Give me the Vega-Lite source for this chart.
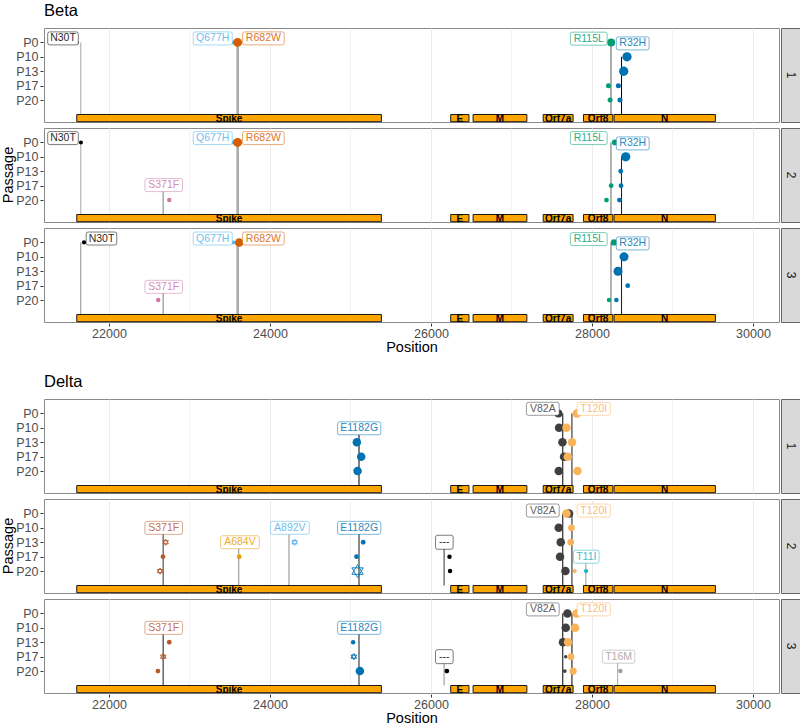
{
  "$schema": "https://vega.github.io/schema/vega-lite/v6.json",
  "background": "white",
  "padding": {"left": 0, "top": 3, "right": 0, "bottom": 0},
  "config": {
    "font": "Liberation Sans",
    "view": {"stroke": "#8a8a8a", "strokeWidth": 1},
    "axis": {"labelFontSize": 12.5, "labelColor": "#4d4d4d", "tickColor": "#333333", "tickSize": 3, "labelPadding": 2, "labelOverlap": false, "domain": false, "titleFontSize": 14.5, "titleFontWeight": "normal", "titleColor": "#000000", "gridColor": "#ebebeb", "titlePadding": 1},
    "title": {"fontSize": 16.5, "fontWeight": "normal", "color": "#000000", "anchor": "start", "offset": 8},
    "header": {"titleFontSize": 14.5, "titleFontWeight": "normal", "titleColor": "#000000", "labelPadding": 0}
  },
  "datasets": {
    "strips": [{"rep": 1}, {"rep": 2}, {"rep": 3}],
    "beta": [
      {"kind": "gene", "rep": 1, "gene": "Spike", "start": 21600, "end": 25384},
      {"kind": "gene", "rep": 1, "gene": "E", "start": 26245, "end": 26472},
      {"kind": "gene", "rep": 1, "gene": "M", "start": 26523, "end": 27191},
      {"kind": "gene", "rep": 1, "gene": "Orf7a", "start": 27394, "end": 27765},
      {"kind": "gene", "rep": 1, "gene": "Orf8", "start": 27894, "end": 28259},
      {"kind": "gene", "rep": 1, "gene": "N", "start": 28274, "end": 29533},
      {"kind": "gene", "rep": 2, "gene": "Spike", "start": 21600, "end": 25384},
      {"kind": "gene", "rep": 2, "gene": "E", "start": 26245, "end": 26472},
      {"kind": "gene", "rep": 2, "gene": "M", "start": 26523, "end": 27191},
      {"kind": "gene", "rep": 2, "gene": "Orf7a", "start": 27394, "end": 27765},
      {"kind": "gene", "rep": 2, "gene": "Orf8", "start": 27894, "end": 28259},
      {"kind": "gene", "rep": 2, "gene": "N", "start": 28274, "end": 29533},
      {"kind": "gene", "rep": 3, "gene": "Spike", "start": 21600, "end": 25384},
      {"kind": "gene", "rep": 3, "gene": "E", "start": 26245, "end": 26472},
      {"kind": "gene", "rep": 3, "gene": "M", "start": 26523, "end": 27191},
      {"kind": "gene", "rep": 3, "gene": "Orf7a", "start": 27394, "end": 27765},
      {"kind": "gene", "rep": 3, "gene": "Orf8", "start": 27894, "end": 28259},
      {"kind": "gene", "rep": 3, "gene": "N", "start": 28274, "end": 29533},

      {"kind": "mut", "rep": 1, "mut": "N30T", "pos": 21650, "top": 5, "mean_af": 0.35, "lab_x": 21429, "lab_y": 5.28},
      {"kind": "mut", "rep": 1, "mut": "Q677H", "pos": 23591, "top": 5, "mean_af": 0.45, "lab_x": 23289, "lab_y": 5.28},
      {"kind": "mut", "rep": 1, "mut": "R682W", "pos": 23606, "top": 5, "mean_af": 0.45, "lab_x": 23918, "lab_y": 5.28},
      {"kind": "mut", "rep": 1, "mut": "R115L", "pos": 28236, "top": 5, "mean_af": 0.65, "lab_x": 27960, "lab_y": 5.26},
      {"kind": "mut", "rep": 1, "mut": "R32H", "pos": 28367, "top": 4, "mean_af": 1, "lab_x": 28506, "lab_y": 4.93},
      {"kind": "mut", "rep": 2, "mut": "N30T", "pos": 21650, "top": 5, "mean_af": 0.35, "lab_x": 21429, "lab_y": 5.3},
      {"kind": "mut", "rep": 2, "mut": "Q677H", "pos": 23591, "top": 5, "mean_af": 0.45, "lab_x": 23289, "lab_y": 5.3},
      {"kind": "mut", "rep": 2, "mut": "R682W", "pos": 23606, "top": 5, "mean_af": 0.45, "lab_x": 23918, "lab_y": 5.3},
      {"kind": "mut", "rep": 2, "mut": "S371F", "pos": 22673, "top": 2.04, "mean_af": 0.5, "lab_x": 22680, "lab_y": 2.04},
      {"kind": "mut", "rep": 2, "mut": "R115L", "pos": 28236, "top": 5, "mean_af": 0.6, "lab_x": 27960, "lab_y": 5.3},
      {"kind": "mut", "rep": 2, "mut": "R32H", "pos": 28367, "top": 4, "mean_af": 0.9, "lab_x": 28506, "lab_y": 4.93},
      {"kind": "mut", "rep": 3, "mut": "N30T", "pos": 21650, "top": 5, "mean_af": 0.45, "lab_x": 21907, "lab_y": 5.27},
      {"kind": "mut", "rep": 3, "mut": "Q677H", "pos": 23591, "top": 5, "mean_af": 0.45, "lab_x": 23289, "lab_y": 5.27},
      {"kind": "mut", "rep": 3, "mut": "R682W", "pos": 23606, "top": 5, "mean_af": 0.45, "lab_x": 23918, "lab_y": 5.27},
      {"kind": "mut", "rep": 3, "mut": "S371F", "pos": 22673, "top": 1.92, "mean_af": 0.5, "lab_x": 22680, "lab_y": 1.92},
      {"kind": "mut", "rep": 3, "mut": "R115L", "pos": 28236, "top": 5, "mean_af": 0.6, "lab_x": 27960, "lab_y": 5.23},
      {"kind": "mut", "rep": 3, "mut": "R32H", "pos": 28367, "top": 4, "mean_af": 0.9, "lab_x": 28506, "lab_y": 4.93},

      {"kind": "obs", "rep": 1, "mut": "N30T", "pos": 21600, "level": 5, "freq": 0.05, "status": "called"},
      {"kind": "obs", "rep": 1, "mut": "Q677H", "pos": 23545, "level": 5, "freq": 0.08, "status": "called"},
      {"kind": "obs", "rep": 1, "mut": "R682W", "pos": 23598, "level": 5, "freq": 0.75, "status": "called"},
      {"kind": "obs", "rep": 1, "mut": "R115L", "pos": 28238, "level": 5, "freq": 0.6, "status": "called"},
      {"kind": "obs", "rep": 1, "mut": "R115L", "pos": 28205, "level": 2, "freq": 0.18, "status": "called"},
      {"kind": "obs", "rep": 1, "mut": "R115L", "pos": 28225, "level": 1, "freq": 0.18, "status": "called"},
      {"kind": "obs", "rep": 1, "mut": "R32H", "pos": 28435, "level": 4, "freq": 0.85, "status": "called"},
      {"kind": "obs", "rep": 1, "mut": "R32H", "pos": 28394, "level": 3, "freq": 0.85, "status": "called"},
      {"kind": "obs", "rep": 1, "mut": "R32H", "pos": 28328, "level": 2, "freq": 0.18, "status": "called"},
      {"kind": "obs", "rep": 1, "mut": "R32H", "pos": 28348, "level": 1, "freq": 0.18, "status": "called"},
      {"kind": "obs", "rep": 2, "mut": "N30T", "pos": 21652, "level": 5, "freq": 0.08, "status": "called"},
      {"kind": "obs", "rep": 2, "mut": "Q677H", "pos": 23545, "level": 5, "freq": 0.08, "status": "called"},
      {"kind": "obs", "rep": 2, "mut": "R682W", "pos": 23598, "level": 5, "freq": 0.8, "status": "called"},
      {"kind": "obs", "rep": 2, "mut": "S371F", "pos": 22749, "level": 1, "freq": 0.12, "status": "called"},
      {"kind": "obs", "rep": 2, "mut": "R115L", "pos": 28283, "level": 5, "freq": 0.25, "status": "called"},
      {"kind": "obs", "rep": 2, "mut": "R115L", "pos": 28238, "level": 2, "freq": 0.15, "status": "called"},
      {"kind": "obs", "rep": 2, "mut": "R115L", "pos": 28180, "level": 1, "freq": 0.15, "status": "called"},
      {"kind": "obs", "rep": 2, "mut": "R32H", "pos": 28419, "level": 4, "freq": 0.85, "status": "called"},
      {"kind": "obs", "rep": 2, "mut": "R32H", "pos": 28357, "level": 3, "freq": 0.15, "status": "called"},
      {"kind": "obs", "rep": 2, "mut": "R32H", "pos": 28361, "level": 2, "freq": 0.15, "status": "called"},
      {"kind": "obs", "rep": 2, "mut": "R32H", "pos": 28341, "level": 1, "freq": 0.15, "status": "called"},
      {"kind": "obs", "rep": 3, "mut": "N30T", "pos": 21690, "level": 5, "freq": 0.1, "status": "called"},
      {"kind": "obs", "rep": 3, "mut": "Q677H", "pos": 23545, "level": 5, "freq": 0.08, "status": "called"},
      {"kind": "obs", "rep": 3, "mut": "R682W", "pos": 23618, "level": 5, "freq": 0.7, "status": "called"},
      {"kind": "obs", "rep": 3, "mut": "S371F", "pos": 22612, "level": 1, "freq": 0.12, "status": "called"},
      {"kind": "obs", "rep": 3, "mut": "R115L", "pos": 28274, "level": 5, "freq": 0.35, "status": "called"},
      {"kind": "obs", "rep": 3, "mut": "R115L", "pos": 28212, "level": 1, "freq": 0.12, "status": "called"},
      {"kind": "obs", "rep": 3, "mut": "R32H", "pos": 28398, "level": 4, "freq": 0.8, "status": "called"},
      {"kind": "obs", "rep": 3, "mut": "R32H", "pos": 28323, "level": 3, "freq": 0.8, "status": "called"},
      {"kind": "obs", "rep": 3, "mut": "R32H", "pos": 28444, "level": 2, "freq": 0.15, "status": "called"},
      {"kind": "obs", "rep": 3, "mut": "R32H", "pos": 28303, "level": 1, "freq": 0.12, "status": "called"}
    ],
    "delta": [
      {"kind": "gene", "rep": 1, "gene": "Spike", "start": 21600, "end": 25384},
      {"kind": "gene", "rep": 1, "gene": "E", "start": 26245, "end": 26472},
      {"kind": "gene", "rep": 1, "gene": "M", "start": 26523, "end": 27191},
      {"kind": "gene", "rep": 1, "gene": "Orf7a", "start": 27394, "end": 27765},
      {"kind": "gene", "rep": 1, "gene": "Orf8", "start": 27894, "end": 28259},
      {"kind": "gene", "rep": 1, "gene": "N", "start": 28274, "end": 29533},
      {"kind": "gene", "rep": 2, "gene": "Spike", "start": 21600, "end": 25384},
      {"kind": "gene", "rep": 2, "gene": "E", "start": 26245, "end": 26472},
      {"kind": "gene", "rep": 2, "gene": "M", "start": 26523, "end": 27191},
      {"kind": "gene", "rep": 2, "gene": "Orf7a", "start": 27394, "end": 27765},
      {"kind": "gene", "rep": 2, "gene": "Orf8", "start": 27894, "end": 28259},
      {"kind": "gene", "rep": 2, "gene": "N", "start": 28274, "end": 29533},
      {"kind": "gene", "rep": 3, "gene": "Spike", "start": 21600, "end": 25384},
      {"kind": "gene", "rep": 3, "gene": "E", "start": 26245, "end": 26472},
      {"kind": "gene", "rep": 3, "gene": "M", "start": 26523, "end": 27191},
      {"kind": "gene", "rep": 3, "gene": "Orf7a", "start": 27394, "end": 27765},
      {"kind": "gene", "rep": 3, "gene": "Orf8", "start": 27894, "end": 28259},
      {"kind": "gene", "rep": 3, "gene": "N", "start": 28274, "end": 29533},

      {"kind": "mut", "rep": 1, "mut": "E1182G", "pos": 25106, "top": 3.97, "mean_af": 1, "lab_x": 25108, "lab_y": 3.97},
      {"kind": "mut", "rep": 1, "mut": "V82A", "pos": 27637, "top": 5, "mean_af": 1, "lab_x": 27389, "lab_y": 5.32},
      {"kind": "mut", "rep": 1, "mut": "T120I", "pos": 27751, "top": 5, "mean_af": 0.9, "lab_x": 28022, "lab_y": 5.32},
      {"kind": "mut", "rep": 2, "mut": "S371F", "pos": 22673, "top": 4, "mean_af": 0.8, "lab_x": 22680, "lab_y": 4},
      {"kind": "mut", "rep": 2, "mut": "A684V", "pos": 23612, "top": 3, "mean_af": 0.45, "lab_x": 23627, "lab_y": 3},
      {"kind": "mut", "rep": 2, "mut": "A892V", "pos": 24236, "top": 4, "mean_af": 0.45, "lab_x": 24247, "lab_y": 4},
      {"kind": "mut", "rep": 2, "mut": "E1182G", "pos": 25106, "top": 4, "mean_af": 0.9, "lab_x": 25108, "lab_y": 4},
      {"kind": "mut", "rep": 2, "mut": "---", "pos": 26163, "top": 3, "mean_af": 0.8, "lab_x": 26166, "lab_y": 3},
      {"kind": "mut", "rep": 2, "mut": "V82A", "pos": 27637, "top": 5, "mean_af": 1, "lab_x": 27389, "lab_y": 5.2},
      {"kind": "mut", "rep": 2, "mut": "T120I", "pos": 27751, "top": 5, "mean_af": 0.9, "lab_x": 28022, "lab_y": 5.2},
      {"kind": "mut", "rep": 2, "mut": "T11I", "pos": 27924, "top": 2, "mean_af": 0.4, "lab_x": 27929, "lab_y": 2},
      {"kind": "mut", "rep": 3, "mut": "S371F", "pos": 22673, "top": 4, "mean_af": 0.9, "lab_x": 22680, "lab_y": 4},
      {"kind": "mut", "rep": 3, "mut": "E1182G", "pos": 25106, "top": 4, "mean_af": 0.9, "lab_x": 25108, "lab_y": 4},
      {"kind": "mut", "rep": 3, "mut": "---", "pos": 26163, "top": 2, "mean_af": 0.45, "lab_x": 26166, "lab_y": 2},
      {"kind": "mut", "rep": 3, "mut": "V82A", "pos": 27637, "top": 5, "mean_af": 1, "lab_x": 27389, "lab_y": 5.28},
      {"kind": "mut", "rep": 3, "mut": "T120I", "pos": 27751, "top": 5, "mean_af": 1, "lab_x": 28022, "lab_y": 5.28},
      {"kind": "mut", "rep": 3, "mut": "T16M", "pos": 28319, "top": 2, "mean_af": 0.35, "lab_x": 28330, "lab_y": 2},

      {"kind": "obs", "rep": 1, "mut": "E1182G", "pos": 25079, "level": 3, "freq": 0.7, "status": "called"},
      {"kind": "obs", "rep": 1, "mut": "E1182G", "pos": 25133, "level": 2, "freq": 0.7, "status": "called"},
      {"kind": "obs", "rep": 1, "mut": "E1182G", "pos": 25088, "level": 1, "freq": 0.7, "status": "called"},
      {"kind": "obs", "rep": 1, "mut": "V82A", "pos": 27583, "level": 5, "freq": 0.6, "status": "called"},
      {"kind": "obs", "rep": 1, "mut": "V82A", "pos": 27591, "level": 4, "freq": 0.7, "status": "called"},
      {"kind": "obs", "rep": 1, "mut": "V82A", "pos": 27633, "level": 3, "freq": 0.7, "status": "called"},
      {"kind": "obs", "rep": 1, "mut": "V82A", "pos": 27653, "level": 2, "freq": 0.7, "status": "called"},
      {"kind": "obs", "rep": 1, "mut": "V82A", "pos": 27587, "level": 1, "freq": 0.7, "status": "called"},
      {"kind": "obs", "rep": 1, "mut": "T120I", "pos": 27811, "level": 5, "freq": 0.7, "status": "called"},
      {"kind": "obs", "rep": 1, "mut": "T120I", "pos": 27683, "level": 4, "freq": 0.7, "status": "called"},
      {"kind": "obs", "rep": 1, "mut": "T120I", "pos": 27752, "level": 3, "freq": 0.7, "status": "called"},
      {"kind": "obs", "rep": 1, "mut": "T120I", "pos": 27699, "level": 2, "freq": 0.7, "status": "called"},
      {"kind": "obs", "rep": 1, "mut": "T120I", "pos": 27820, "level": 1, "freq": 0.7, "status": "called"},
      {"kind": "obs", "rep": 2, "mut": "S371F", "pos": 22704, "level": 3, "freq": 0.1, "status": "flagged"},
      {"kind": "obs", "rep": 2, "mut": "S371F", "pos": 22671, "level": 2, "freq": 0.15, "status": "called"},
      {"kind": "obs", "rep": 2, "mut": "S371F", "pos": 22634, "level": 1, "freq": 0.1, "status": "flagged"},
      {"kind": "obs", "rep": 2, "mut": "A684V", "pos": 23618, "level": 2, "freq": 0.15, "status": "called"},
      {"kind": "obs", "rep": 2, "mut": "A892V", "pos": 24306, "level": 3, "freq": 0.1, "status": "flagged"},
      {"kind": "obs", "rep": 2, "mut": "E1182G", "pos": 25158, "level": 3, "freq": 0.15, "status": "called"},
      {"kind": "obs", "rep": 2, "mut": "E1182G", "pos": 25075, "level": 2, "freq": 0.15, "status": "called"},
      {"kind": "obs", "rep": 2, "mut": "E1182G", "pos": 25088, "level": 1, "freq": 0.73, "status": "flagged"},
      {"kind": "obs", "rep": 2, "mut": "---", "pos": 26230, "level": 2, "freq": 0.12, "status": "called"},
      {"kind": "obs", "rep": 2, "mut": "---", "pos": 26237, "level": 1, "freq": 0.12, "status": "called"},
      {"kind": "obs", "rep": 2, "mut": "V82A", "pos": 27715, "level": 5, "freq": 0.7, "status": "called"},
      {"kind": "obs", "rep": 2, "mut": "V82A", "pos": 27587, "level": 4, "freq": 0.7, "status": "called"},
      {"kind": "obs", "rep": 2, "mut": "V82A", "pos": 27612, "level": 3, "freq": 0.7, "status": "called"},
      {"kind": "obs", "rep": 2, "mut": "V82A", "pos": 27603, "level": 2, "freq": 0.7, "status": "called"},
      {"kind": "obs", "rep": 2, "mut": "V82A", "pos": 27670, "level": 1, "freq": 0.7, "status": "called"},
      {"kind": "obs", "rep": 2, "mut": "T120I", "pos": 27683, "level": 5, "freq": 0.7, "status": "called"},
      {"kind": "obs", "rep": 2, "mut": "T120I", "pos": 27745, "level": 4, "freq": 0.4, "status": "called"},
      {"kind": "obs", "rep": 2, "mut": "T120I", "pos": 27736, "level": 3, "freq": 0.4, "status": "called"},
      {"kind": "obs", "rep": 2, "mut": "T120I", "pos": 27786, "level": 1, "freq": 0.08, "status": "called"},
      {"kind": "obs", "rep": 2, "mut": "T11I", "pos": 27926, "level": 1, "freq": 0.1, "status": "called"},
      {"kind": "obs", "rep": 3, "mut": "S371F", "pos": 22749, "level": 3, "freq": 0.15, "status": "called"},
      {"kind": "obs", "rep": 3, "mut": "S371F", "pos": 22674, "level": 2, "freq": 0.1, "status": "flagged"},
      {"kind": "obs", "rep": 3, "mut": "S371F", "pos": 22608, "level": 1, "freq": 0.15, "status": "called"},
      {"kind": "obs", "rep": 3, "mut": "E1182G", "pos": 25033, "level": 3, "freq": 0.12, "status": "called"},
      {"kind": "obs", "rep": 3, "mut": "E1182G", "pos": 25042, "level": 2, "freq": 0.1, "status": "flagged"},
      {"kind": "obs", "rep": 3, "mut": "E1182G", "pos": 25117, "level": 1, "freq": 0.7, "status": "called"},
      {"kind": "obs", "rep": 3, "mut": "---", "pos": 26197, "level": 1, "freq": 0.15, "status": "called"},
      {"kind": "obs", "rep": 3, "mut": "V82A", "pos": 27695, "level": 5, "freq": 0.7, "status": "called"},
      {"kind": "obs", "rep": 3, "mut": "V82A", "pos": 27674, "level": 4, "freq": 0.7, "status": "called"},
      {"kind": "obs", "rep": 3, "mut": "V82A", "pos": 27640, "level": 3, "freq": 0.7, "status": "called"},
      {"kind": "obs", "rep": 3, "mut": "V82A", "pos": 27674, "level": 2, "freq": 0.03, "status": "called"},
      {"kind": "obs", "rep": 3, "mut": "V82A", "pos": 27662, "level": 1, "freq": 0.05, "status": "called"},
      {"kind": "obs", "rep": 3, "mut": "T120I", "pos": 27807, "level": 5, "freq": 0.7, "status": "called"},
      {"kind": "obs", "rep": 3, "mut": "T120I", "pos": 27790, "level": 4, "freq": 0.7, "status": "called"},
      {"kind": "obs", "rep": 3, "mut": "T120I", "pos": 27703, "level": 3, "freq": 0.7, "status": "called"},
      {"kind": "obs", "rep": 3, "mut": "T120I", "pos": 27740, "level": 2, "freq": 0.4, "status": "called"},
      {"kind": "obs", "rep": 3, "mut": "T120I", "pos": 27765, "level": 1, "freq": 0.5, "status": "called"},
      {"kind": "obs", "rep": 3, "mut": "T16M", "pos": 28353, "level": 1, "freq": 0.12, "status": "called"}
    ]
  },
  "spacing": 20,
  "resolve": {"scale": {"color": "independent", "shape": "independent"}},
  "vconcat": [
    {
      "title": {"text": "Beta", "anchor": "start", "frame": "group"},
      "spacing": 0,
      "resolve": {"scale": {"x": "independent", "y": "independent"}},
      "hconcat": [
        {
          "data": {"name": "beta"},
          "facet": {"row": {"field": "rep", "type": "ordinal", "header": {"title": "Passage", "labels": false, "titlePadding": -11}}},
          "spacing": 4,
          "spec": {
            "width": 735,
            "height": 94,
            "encoding": {
              "x": {"field": "pos", "type": "quantitative", "scale": {"domain": [21193, 30323], "nice": false, "zero": false},
                "axis": {"title": "Position", "labelPadding": 1, "titlePadding": 1, "tickCount": 20, "values": [22000, 23000, 24000, 25000, 26000, 27000, 28000, 29000, 30000], "format": "d",
                  "labelExpr": "datum.value % 2000 === 0 ? datum.label : ''",
                  "tickOpacity": {"condition": {"test": "datum.value % 2000 === 0", "value": 1}, "value": 0},
                  "gridWidth": {"condition": {"test": "datum.value % 2000 === 0", "value": 1}, "value": 0.6}}}
            },
            "layer": [
              {
                "transform": [{"filter": "datum.kind === 'gene'"}],
                "mark": {"type": "rect", "fill": "#FFA500", "stroke": "#1a1a1a", "strokeWidth": 1},
                "encoding": {
                  "x": {"field": "start", "type": "quantitative"},
                  "x2": {"field": "end"},
                  "y": {"datum": 0, "type": "quantitative", "title": null, "scale": {"domain": [-0.52, 6], "nice": false, "zero": false}},
                  "y2": {"datum": -0.5}
                }
              },
              {
                "transform": [{"filter": "datum.kind === 'gene'"}, {"fold": ["start", "end"], "as": ["edge", "coord"]}],
                "mark": {"type": "text", "fontSize": 10, "fontWeight": "bold", "color": "#000000", "baseline": "middle", "clip": true},
                "encoding": {
                  "x": {"aggregate": "mean", "field": "coord", "type": "quantitative"},
                  "y": {"datum": -0.3, "type": "quantitative", "title": null, "scale": {"domain": [-0.52, 6], "nice": false, "zero": false}},
                  "text": {"field": "gene", "type": "nominal"}
                }
              },
              {
                "transform": [{"filter": "datum.kind === 'mut'"}],
                "mark": {"type": "rule", "color": "#000000", "strokeWidth": 1},
                "encoding": {
                  "y": {"field": "top", "type": "quantitative", "title": null, "scale": {"domain": [-0.52, 6], "nice": false, "zero": false}},
                  "y2": {"datum": 0},
                  "opacity": {"field": "mean_af", "type": "quantitative", "scale": {"domain": [0, 1], "range": [0, 1]}, "legend": null}
                }
              },
              {
                "transform": [{"filter": "datum.kind === 'obs' && datum.status === 'called'"}],
                "mark": {"type": "point", "shape": "circle", "filled": true, "opacity": 1, "strokeWidth": 0},
                "encoding": {
                  "y": {"field": "level", "type": "quantitative", "title": null, "scale": {"domain": [-0.52, 6], "nice": false, "zero": false},
                    "axis": {"title": null, "values": [1, 2, 3, 4, 5], "tickCount": 10, "labelOverlap": false, "labelExpr": "datum.value === 5 ? 'P0' : datum.value === 4 ? 'P10' : datum.value === 3 ? 'P13' : datum.value === 2 ? 'P17' : 'P20'"}},
                  "size": {"field": "freq", "type": "quantitative", "scale": {"domain": [0, 1], "range": [9, 100]}, "legend": null},
                  "color": {"field": "mut", "type": "nominal", "scale": {"domain": ["N30T", "Q677H", "R682W", "S371F", "R115L", "R32H"], "range": ["#000000", "#56B4E9", "#D55E00", "#CC79A7", "#009E73", "#0072B2"]}, "legend": null}
                }
              },
              {
                "transform": [{"filter": "datum.kind === 'obs' && datum.status === 'flagged'"}],
                "mark": {"type": "point", "shape": "M0,-1.5L1.299,0.75L-1.299,0.75ZM0,1.5L1.299,-0.75L-1.299,-0.75Z", "filled": false, "opacity": 1, "strokeWidth": 0.9},
                "encoding": {
                  "y": {"field": "level", "type": "quantitative", "title": null, "scale": {"domain": [-0.52, 6], "nice": false, "zero": false}},
                  "size": {"field": "freq", "type": "quantitative", "scale": {"domain": [0, 1], "range": [9, 100]}, "legend": null},
                  "color": {"field": "mut", "type": "nominal", "scale": {"domain": ["N30T", "Q677H", "R682W", "S371F", "R115L", "R32H"], "range": ["#000000", "#56B4E9", "#D55E00", "#CC79A7", "#009E73", "#0072B2"]}, "legend": null}
                }
              },
              {
                "transform": [{"filter": "datum.kind === 'mut'"}],
                "mark": {"type": "point", "filled": false, "fill": "#ffffff", "fillOpacity": 1, "size": 1600, "strokeWidth": 0.8, "strokeOpacity": 0.65, "opacity": 1},
                "encoding": {
                  "x": {"field": "lab_x", "type": "quantitative"},
                  "y": {"field": "lab_y", "type": "quantitative", "title": null, "scale": {"domain": [-0.52, 6], "nice": false, "zero": false}},
                  "shape": {"field": "mut", "type": "nominal", "legend": null, "scale": {"domain": ["N30T", "Q677H", "R682W", "S371F", "R115L", "R32H"], "range": [
                    "M-0.665,-0.325L0.665,-0.325Q0.765,-0.325,0.765,-0.225L0.765,0.225Q0.765,0.325,0.665,0.325L-0.665,0.325Q-0.765,0.325,-0.765,0.225L-0.765,-0.225Q-0.765,-0.325,-0.665,-0.325Z",
                    "M-0.875,-0.325L0.875,-0.325Q0.975,-0.325,0.975,-0.225L0.975,0.225Q0.975,0.325,0.875,0.325L-0.875,0.325Q-0.975,0.325,-0.975,0.225L-0.975,-0.225Q-0.975,-0.325,-0.875,-0.325Z",
                    "M-0.94,-0.325L0.94,-0.325Q1.04,-0.325,1.04,-0.225L1.04,0.225Q1.04,0.325,0.94,0.325L-0.94,0.325Q-1.04,0.325,-1.04,0.225L-1.04,-0.225Q-1.04,-0.325,-0.94,-0.325Z",
                    "M-0.84,-0.325L0.84,-0.325Q0.94,-0.325,0.94,-0.225L0.94,0.225Q0.94,0.325,0.84,0.325L-0.84,0.325Q-0.94,0.325,-0.94,0.225L-0.94,-0.225Q-0.94,-0.325,-0.84,-0.325Z",
                    "M-0.82,-0.325L0.82,-0.325Q0.92,-0.325,0.92,-0.225L0.92,0.225Q0.92,0.325,0.82,0.325L-0.82,0.325Q-0.92,0.325,-0.92,0.225L-0.92,-0.225Q-0.92,-0.325,-0.82,-0.325Z",
                    "M-0.72,-0.325L0.72,-0.325Q0.82,-0.325,0.82,-0.225L0.82,0.225Q0.82,0.325,0.72,0.325L-0.72,0.325Q-0.82,0.325,-0.82,0.225L-0.82,-0.225Q-0.82,-0.325,-0.72,-0.325Z"]}},
                  "color": {"field": "mut", "type": "nominal", "scale": {"domain": ["N30T", "Q677H", "R682W", "S371F", "R115L", "R32H"], "range": ["#000000", "#56B4E9", "#D55E00", "#CC79A7", "#009E73", "#0072B2"]}, "legend": null}
                }
              },
              {
                "transform": [{"filter": "datum.kind === 'mut'"}],
                "mark": {"type": "text", "fontSize": 10.5, "baseline": "middle", "opacity": 0.85},
                "encoding": {
                  "x": {"field": "lab_x", "type": "quantitative"},
                  "y": {"field": "lab_y", "type": "quantitative", "title": null, "scale": {"domain": [-0.52, 6], "nice": false, "zero": false}},
                  "text": {"field": "mut", "type": "nominal"},
                  "color": {"field": "mut", "type": "nominal", "scale": {"domain": ["N30T", "Q677H", "R682W", "S371F", "R115L", "R32H"], "range": ["#000000", "#56B4E9", "#D55E00", "#CC79A7", "#009E73", "#0072B2"]}, "legend": null}
                }
              }
            ]
          }
        },
        {
          "data": {"name": "strips"},
          "facet": {"row": {"field": "rep", "type": "ordinal", "header": {"title": null, "labels": false}}},
          "spacing": 4,
          "spec": {
            "width": 20,
            "height": 94,
            "view": {"fill": "#d9d9d9", "stroke": "#666666"},
            "mark": {"type": "text", "angle": 90, "fontSize": 12, "color": "#1a1a1a", "baseline": "middle"},
            "encoding": {
              "text": {"field": "rep", "type": "nominal"},
              "x": {"datum": 0.5, "type": "quantitative", "scale": {"domain": [0, 1]}, "axis": null},
              "y": {"datum": 0.5, "type": "quantitative", "scale": {"domain": [0, 1]}, "axis": null}
            }
          }
        }
      ]
    },
    {
      "title": {"text": "Delta", "anchor": "start", "frame": "group"},
      "spacing": 0,
      "resolve": {"scale": {"x": "independent", "y": "independent"}},
      "hconcat": [
        {
          "data": {"name": "delta"},
          "facet": {"row": {"field": "rep", "type": "ordinal", "header": {"title": "Passage", "labels": false, "titlePadding": -11}}},
          "spacing": 4,
          "spec": {
            "width": 735,
            "height": 94,
            "encoding": {
              "x": {"field": "pos", "type": "quantitative", "scale": {"domain": [21193, 30323], "nice": false, "zero": false},
                "axis": {"title": "Position", "labelPadding": 1, "titlePadding": 1, "tickCount": 20, "values": [22000, 23000, 24000, 25000, 26000, 27000, 28000, 29000, 30000], "format": "d",
                  "labelExpr": "datum.value % 2000 === 0 ? datum.label : ''",
                  "tickOpacity": {"condition": {"test": "datum.value % 2000 === 0", "value": 1}, "value": 0},
                  "gridWidth": {"condition": {"test": "datum.value % 2000 === 0", "value": 1}, "value": 0.6}}}
            },
            "layer": [
              {
                "transform": [{"filter": "datum.kind === 'gene'"}],
                "mark": {"type": "rect", "fill": "#FFA500", "stroke": "#1a1a1a", "strokeWidth": 1},
                "encoding": {
                  "x": {"field": "start", "type": "quantitative"},
                  "x2": {"field": "end"},
                  "y": {"datum": 0, "type": "quantitative", "title": null, "scale": {"domain": [-0.52, 6], "nice": false, "zero": false}},
                  "y2": {"datum": -0.5}
                }
              },
              {
                "transform": [{"filter": "datum.kind === 'gene'"}, {"fold": ["start", "end"], "as": ["edge", "coord"]}],
                "mark": {"type": "text", "fontSize": 10, "fontWeight": "bold", "color": "#000000", "baseline": "middle", "clip": true},
                "encoding": {
                  "x": {"aggregate": "mean", "field": "coord", "type": "quantitative"},
                  "y": {"datum": -0.3, "type": "quantitative", "title": null, "scale": {"domain": [-0.52, 6], "nice": false, "zero": false}},
                  "text": {"field": "gene", "type": "nominal"}
                }
              },
              {
                "transform": [{"filter": "datum.kind === 'mut'"}],
                "mark": {"type": "rule", "color": "#000000", "strokeWidth": 1},
                "encoding": {
                  "y": {"field": "top", "type": "quantitative", "title": null, "scale": {"domain": [-0.52, 6], "nice": false, "zero": false}},
                  "y2": {"datum": 0},
                  "opacity": {"field": "mean_af", "type": "quantitative", "scale": {"domain": [0, 1], "range": [0, 1]}, "legend": null}
                }
              },
              {
                "transform": [{"filter": "datum.kind === 'obs' && datum.status === 'called'"}],
                "mark": {"type": "point", "shape": "circle", "filled": true, "opacity": 1, "strokeWidth": 0},
                "encoding": {
                  "y": {"field": "level", "type": "quantitative", "title": null, "scale": {"domain": [-0.52, 6], "nice": false, "zero": false},
                    "axis": {"title": null, "values": [1, 2, 3, 4, 5], "tickCount": 10, "labelOverlap": false, "labelExpr": "datum.value === 5 ? 'P0' : datum.value === 4 ? 'P10' : datum.value === 3 ? 'P13' : datum.value === 2 ? 'P17' : 'P20'"}},
                  "size": {"field": "freq", "type": "quantitative", "scale": {"domain": [0, 1], "range": [9, 100]}, "legend": null},
                  "color": {"field": "mut", "type": "nominal", "scale": {"domain": ["S371F", "A684V", "A892V", "E1182G", "---", "V82A", "T120I", "T11I", "T16M"], "range": ["#B85A2C", "#E69F00", "#56B4E9", "#0072B2", "#000000", "#3F3F3F", "#F9B45A", "#17B5C8", "#9E9E9E"]}, "legend": null}
                }
              },
              {
                "transform": [{"filter": "datum.kind === 'obs' && datum.status === 'flagged'"}],
                "mark": {"type": "point", "shape": "M0,-1.5L1.299,0.75L-1.299,0.75ZM0,1.5L1.299,-0.75L-1.299,-0.75Z", "filled": false, "opacity": 1, "strokeWidth": 0.9},
                "encoding": {
                  "y": {"field": "level", "type": "quantitative", "title": null, "scale": {"domain": [-0.52, 6], "nice": false, "zero": false}},
                  "size": {"field": "freq", "type": "quantitative", "scale": {"domain": [0, 1], "range": [9, 100]}, "legend": null},
                  "color": {"field": "mut", "type": "nominal", "scale": {"domain": ["S371F", "A684V", "A892V", "E1182G", "---", "V82A", "T120I", "T11I", "T16M"], "range": ["#B85A2C", "#E69F00", "#56B4E9", "#0072B2", "#000000", "#3F3F3F", "#F9B45A", "#17B5C8", "#9E9E9E"]}, "legend": null}
                }
              },
              {
                "transform": [{"filter": "datum.kind === 'mut'"}],
                "mark": {"type": "point", "filled": false, "fill": "#ffffff", "fillOpacity": 1, "size": 1600, "strokeWidth": 0.8, "strokeOpacity": 0.65, "opacity": 1},
                "encoding": {
                  "x": {"field": "lab_x", "type": "quantitative"},
                  "y": {"field": "lab_y", "type": "quantitative", "title": null, "scale": {"domain": [-0.52, 6], "nice": false, "zero": false}},
                  "shape": {"field": "mut", "type": "nominal", "legend": null, "scale": {"domain": ["S371F", "A684V", "A892V", "E1182G", "---", "V82A", "T120I", "T11I", "T16M"], "range": [
                    "M-0.84,-0.325L0.84,-0.325Q0.94,-0.325,0.94,-0.225L0.94,0.225Q0.94,0.325,0.84,0.325L-0.84,0.325Q-0.94,0.325,-0.94,0.225L-0.94,-0.225Q-0.94,-0.325,-0.84,-0.325Z",
                    "M-0.87,-0.325L0.87,-0.325Q0.97,-0.325,0.97,-0.225L0.97,0.225Q0.97,0.325,0.87,0.325L-0.87,0.325Q-0.97,0.325,-0.97,0.225L-0.97,-0.225Q-0.97,-0.325,-0.87,-0.325Z",
                    "M-0.87,-0.325L0.87,-0.325Q0.97,-0.325,0.97,-0.225L0.97,0.225Q0.97,0.325,0.87,0.325L-0.87,0.325Q-0.97,0.325,-0.97,0.225L-0.97,-0.225Q-0.97,-0.325,-0.87,-0.325Z",
                    "M-0.98,-0.325L0.98,-0.325Q1.08,-0.325,1.08,-0.225L1.08,0.225Q1.08,0.325,0.98,0.325L-0.98,0.325Q-1.08,0.325,-1.08,0.225L-1.08,-0.225Q-1.08,-0.325,-0.98,-0.325Z",
                    "M-0.34,-0.35L0.34,-0.35Q0.44,-0.35,0.44,-0.25L0.44,0.25Q0.44,0.35,0.34,0.35L-0.34,0.35Q-0.44,0.35,-0.44,0.25L-0.44,-0.25Q-0.44,-0.35,-0.34,-0.35Z",
                    "M-0.72,-0.325L0.72,-0.325Q0.82,-0.325,0.82,-0.225L0.82,0.225Q0.82,0.325,0.72,0.325L-0.72,0.325Q-0.82,0.325,-0.82,0.225L-0.82,-0.225Q-0.82,-0.325,-0.72,-0.325Z",
                    "M-0.73,-0.325L0.73,-0.325Q0.83,-0.325,0.83,-0.225L0.83,0.225Q0.83,0.325,0.73,0.325L-0.73,0.325Q-0.83,0.325,-0.83,0.225L-0.83,-0.225Q-0.83,-0.325,-0.73,-0.325Z",
                    "M-0.54,-0.325L0.54,-0.325Q0.64,-0.325,0.64,-0.225L0.64,0.225Q0.64,0.325,0.54,0.325L-0.54,0.325Q-0.64,0.325,-0.64,0.225L-0.64,-0.225Q-0.64,-0.325,-0.54,-0.325Z",
                    "M-0.71,-0.325L0.71,-0.325Q0.81,-0.325,0.81,-0.225L0.81,0.225Q0.81,0.325,0.71,0.325L-0.71,0.325Q-0.81,0.325,-0.81,0.225L-0.81,-0.225Q-0.81,-0.325,-0.71,-0.325Z"]}},
                  "color": {"field": "mut", "type": "nominal", "scale": {"domain": ["S371F", "A684V", "A892V", "E1182G", "---", "V82A", "T120I", "T11I", "T16M"], "range": ["#B85A2C", "#E69F00", "#56B4E9", "#0072B2", "#000000", "#3F3F3F", "#F9B45A", "#17B5C8", "#9E9E9E"]}, "legend": null}
                }
              },
              {
                "transform": [{"filter": "datum.kind === 'mut'"}],
                "mark": {"type": "text", "fontSize": 10.5, "baseline": "middle", "opacity": 0.85},
                "encoding": {
                  "x": {"field": "lab_x", "type": "quantitative"},
                  "y": {"field": "lab_y", "type": "quantitative", "title": null, "scale": {"domain": [-0.52, 6], "nice": false, "zero": false}},
                  "text": {"field": "mut", "type": "nominal"},
                  "color": {"field": "mut", "type": "nominal", "scale": {"domain": ["S371F", "A684V", "A892V", "E1182G", "---", "V82A", "T120I", "T11I", "T16M"], "range": ["#B85A2C", "#E69F00", "#56B4E9", "#0072B2", "#000000", "#3F3F3F", "#F9B45A", "#17B5C8", "#9E9E9E"]}, "legend": null}
                }
              }
            ]
          }
        },
        {
          "data": {"name": "strips"},
          "facet": {"row": {"field": "rep", "type": "ordinal", "header": {"title": null, "labels": false}}},
          "spacing": 4,
          "spec": {
            "width": 20,
            "height": 94,
            "view": {"fill": "#d9d9d9", "stroke": "#666666"},
            "mark": {"type": "text", "angle": 90, "fontSize": 12, "color": "#1a1a1a", "baseline": "middle"},
            "encoding": {
              "text": {"field": "rep", "type": "nominal"},
              "x": {"datum": 0.5, "type": "quantitative", "scale": {"domain": [0, 1]}, "axis": null},
              "y": {"datum": 0.5, "type": "quantitative", "scale": {"domain": [0, 1]}, "axis": null}
            }
          }
        }
      ]
    }
  ]
}
